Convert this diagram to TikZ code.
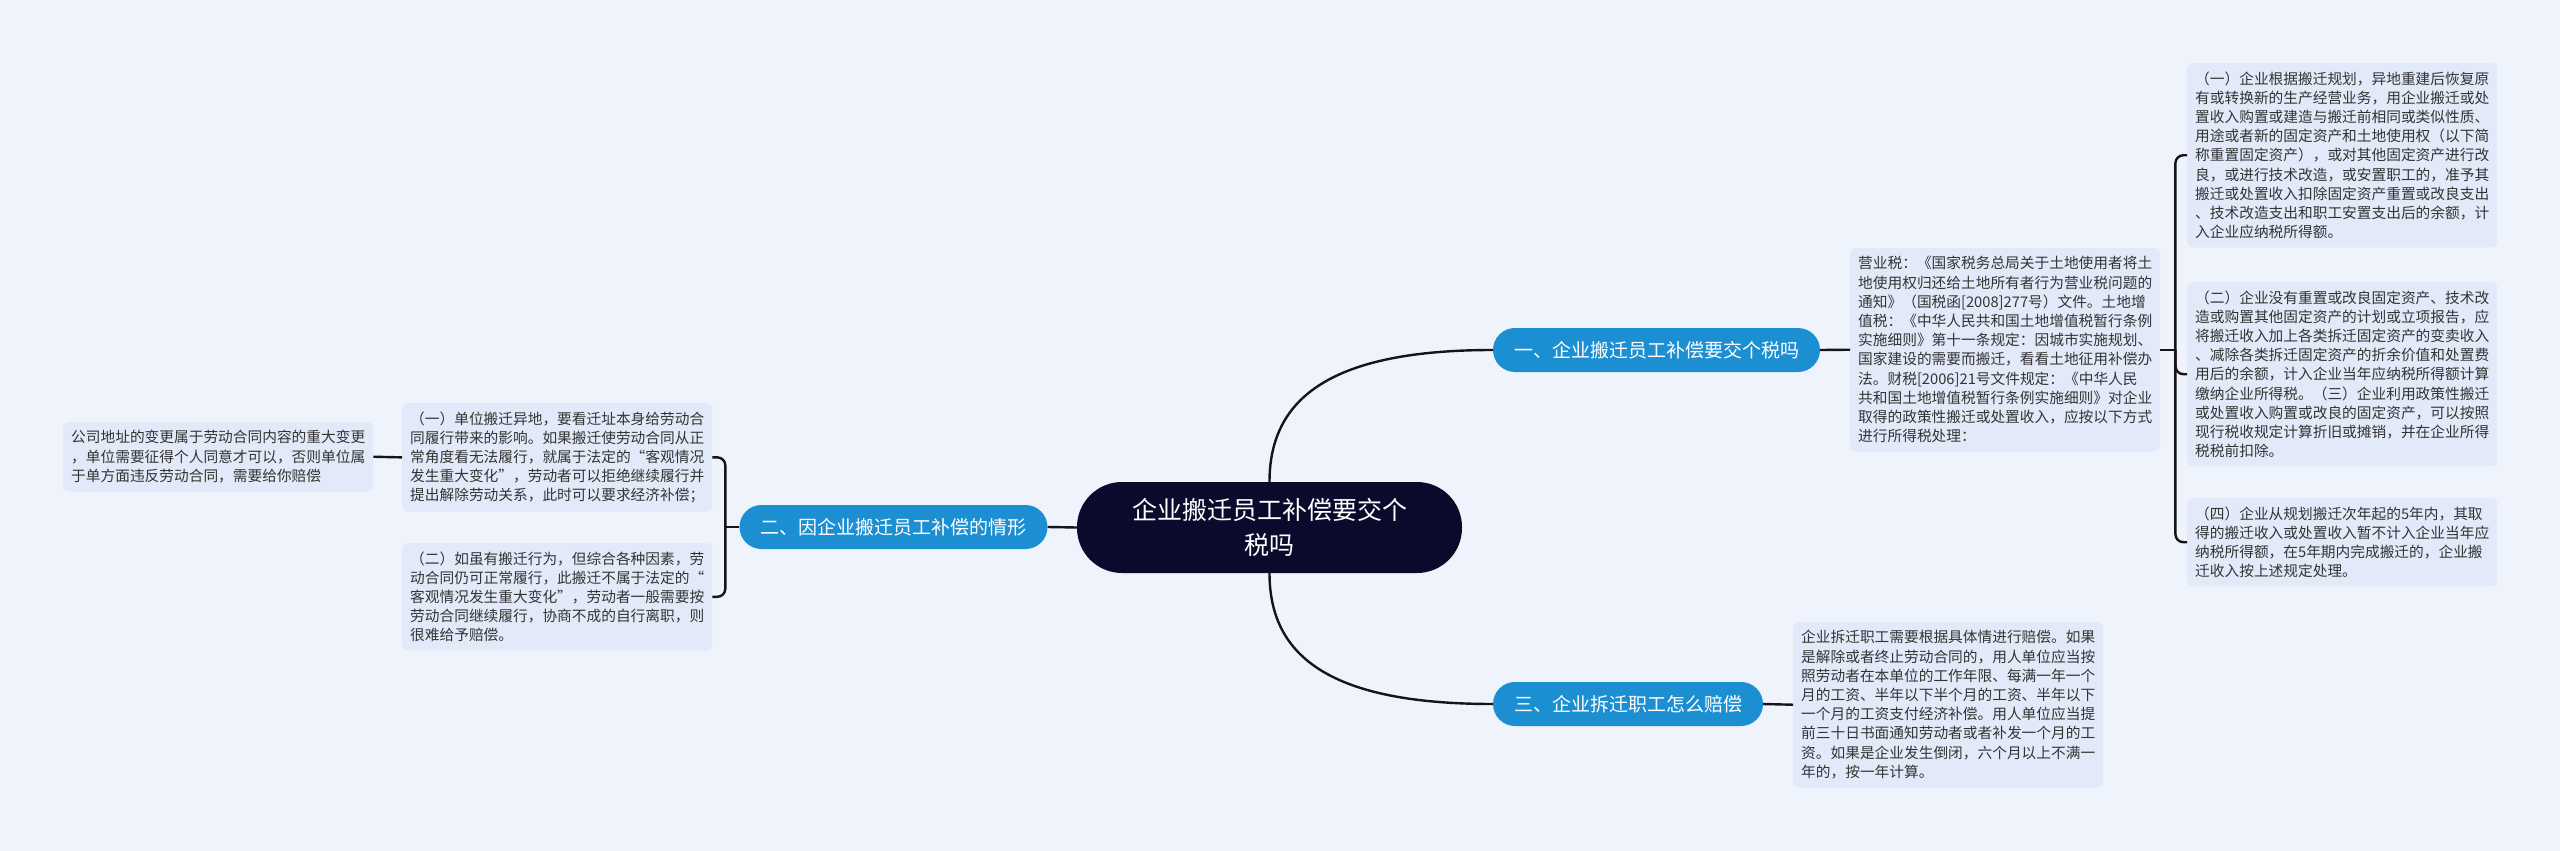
\documentclass[tikz,border=0pt]{standalone}
\usepackage{fontspec}
\newfontfamily\cjk{Noto Sans CJK SC}
\definecolor{bgc}{HTML}{EEF3FC}
\definecolor{boxc}{HTML}{E2EAF9}
\definecolor{brc}{HTML}{1B8FD2}
\definecolor{rootc}{HTML}{0B0A2C}
\definecolor{txtc}{HTML}{333333}
\definecolor{linec}{HTML}{151515}
\begin{document}
\begin{tikzpicture}[x=1pt,y=-1pt,
  leaf/.style={fill=boxc, rounded corners=5pt, inner xsep=8pt, inner ysep=8.3pt, align=left, anchor=north west, font=\cjk\fontsize{14.7}{19.2}\selectfont, text=txtc},
  branch/.style={fill=brc, rounded corners=22pt, minimum height=44pt, inner xsep=21pt, inner ysep=0pt, font=\cjk\fontsize{19}{23}\selectfont, text=white},
  root/.style={fill=rootc, rounded corners=45pt, minimum width=385pt, minimum height=91pt, align=center, font=\cjk\fontsize{25}{35}\selectfont, text=white},
  link/.style={draw=linec, line width=2.4pt}]
\fill[bgc] (0,0) rectangle (2560,851);
\useasboundingbox (0,0) rectangle (2560,851);

\node[root] (C) at (1269.5,527.5) {企业搬迁员工补偿要交个\\税吗};
\node[branch] (b1) at (1656.5,350) {一、企业搬迁员工补偿要交个税吗};
\node[branch] (b2) at (893.5,527) {二、因企业搬迁员工补偿的情形};
\node[branch] (b3) at (1628,704) {三、企业拆迁职工怎么赔偿};

\node[leaf] (Y) at (1850,248) {营业税：《国家税务总局关于土地使用者将土\\地使用权归还给土地所有者行为营业税问题的\\通知》（国税函[2008]277号）文件。土地增\\值税：《中华人民共和国土地增值税暂行条例\\实施细则》第十一条规定：因城市实施规划、\\国家建设的需要而搬迁，看看土地征用补偿办\\法。财税[2006]21号文件规定：《中华人民\\共和国土地增值税暂行条例实施细则》对企业\\取得的政策性搬迁或处置收入，应按以下方式\\进行所得税处理：};

\node[leaf] (R1) at (2187,63) {（一）企业根据搬迁规划，异地重建后恢复原\\有或转换新的生产经营业务，用企业搬迁或处\\置收入购置或建造与搬迁前相同或类似性质、\\用途或者新的固定资产和土地使用权（以下简\\称重置固定资产），或对其他固定资产进行改\\良，或进行技术改造，或安置职工的，准予其\\搬迁或处置收入扣除固定资产重置或改良支出\\、技术改造支出和职工安置支出后的余额，计\\入企业应纳税所得额。};

\node[leaf] (R2) at (2187,282) {（二）企业没有重置或改良固定资产、技术改\\造或购置其他固定资产的计划或立项报告，应\\将搬迁收入加上各类拆迁固定资产的变卖收入\\、减除各类拆迁固定资产的折余价值和处置费\\用后的余额，计入企业当年应纳税所得额计算\\缴纳企业所得税。（三）企业利用政策性搬迁\\或处置收入购置或改良的固定资产，可以按照\\现行税收规定计算折旧或摊销，并在企业所得\\税税前扣除。};

\node[leaf] (R3) at (2187,498) {（四）企业从规划搬迁次年起的5年内，其取\\得的搬迁收入或处置收入暂不计入企业当年应\\纳税所得额，在5年期内完成搬迁的，企业搬\\迁收入按上述规定处理。};

\node[leaf] (S) at (1793,622) {企业拆迁职工需要根据具体情进行赔偿。如果\\是解除或者终止劳动合同的，用人单位应当按\\照劳动者在本单位的工作年限、每满一年一个\\月的工资、半年以下半个月的工资、半年以下\\一个月的工资支付经济补偿。用人单位应当提\\前三十日书面通知劳动者或者补发一个月的工\\资。如果是企业发生倒闭，六个月以上不满一\\年的，按一年计算。};

\node[leaf] (L1) at (402,403) {（一）单位搬迁异地，要看迁址本身给劳动合\\同履行带来的影响。如果搬迁使劳动合同从正\\常角度看无法履行，就属于法定的“客观情况\\发生重大变化”，劳动者可以拒绝继续履行并\\提出解除劳动关系，此时可以要求经济补偿；};

\node[leaf] (L2) at (402,543) {（二）如虽有搬迁行为，但综合各种因素，劳\\动合同仍可正常履行，此搬迁不属于法定的“\\客观情况发生重大变化”，劳动者一般需要按\\劳动合同继续履行，协商不成的自行离职，则\\很难给予赔偿。};

\node[leaf] (LL) at (63,422) {公司地址的变更属于劳动合同内容的重大变更\\，单位需要征得个人同意才可以，否则单位属\\于单方面违反劳动合同，需要给你赔偿};

% connectors
\draw[link] (C.west) -- (b2.east);
\draw[link] (C.north) .. controls +(0,-85) and +(-160,0) .. (b1.west);
\draw[link] (C.south) .. controls +(0,85) and +(-160,0) .. (b3.west);
\draw[link] (b1.east) -- (Y.west);
\draw[link] (b3.east) -- (S.west);
\draw[link] (L1.west) -- (LL.east);

\draw[link] (Y.east) -- ++(15,0) coordinate (rj);
\draw[link, rounded corners=8pt] (R1.west) -| (rj) |- (R3.west);
\draw[link, rounded corners=8pt] (rj) |- (R2.west);

\draw[link] (b2.west) -- ++(-14,0) coordinate (lj);
\draw[link, rounded corners=8pt] (L1.east) -| (lj) |- (L2.east);
\end{tikzpicture}
\end{document}
